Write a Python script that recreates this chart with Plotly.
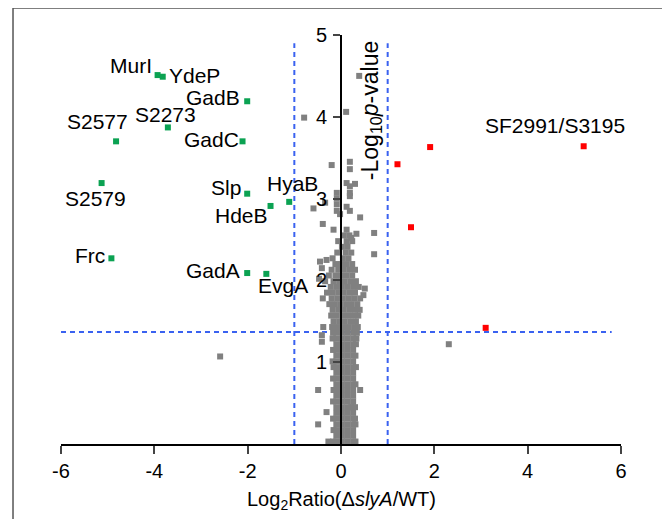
import plotly.graph_objects as go

# ---------------- data ----------------
# non-significant proteins (grey)
gray_rows = [
    (0.03, [-0.17, -0.10, 0.02, 0.14, 0.26, 0.31]),
    (0.10, [-0.10, 0.02, 0.14, 0.26]),
    (0.17, [-0.16, -0.10, 0.02, 0.14, 0.26]),
    (0.24, [-0.10, 0.02, 0.14, 0.26, 0.31]),
    (0.31, [-0.17, -0.10, 0.02, 0.14, 0.26]),
    (0.38, [-0.10, 0.02, 0.14, 0.26]),
    (0.45, [-0.10, 0.02, 0.14, 0.26, 0.30]),
    (0.52, [-0.17, -0.10, 0.02, 0.14, 0.26]),
    (0.59, [-0.10, 0.02, 0.14, 0.26]),
    (0.66, [-0.16, -0.10, 0.02, 0.14, 0.26]),
    (0.73, [-0.10, 0.02, 0.14, 0.26, 0.31]),
    (0.80, [-0.17, -0.10, 0.02, 0.14, 0.26]),
    (0.87, [-0.10, 0.02, 0.14, 0.26]),
    (0.94, [-0.16, -0.10, 0.02, 0.14, 0.26, 0.32]),
    (1.01, [-0.18, -0.10, 0.02, 0.14, 0.26]),
    (1.08, [-0.10, 0.02, 0.14, 0.26, 0.31]),
    (1.15, [-0.17, -0.10, 0.02, 0.14, 0.26]),
    (1.22, [-0.10, 0.02, 0.14, 0.26, 0.32]),
    (1.29, [-0.18, -0.10, 0.02, 0.14, 0.26, 0.33]),
    (1.36, [-0.17, -0.10, 0.02, 0.14, 0.26, 0.34]),
    (1.43, [-0.19, -0.07, 0.05, 0.17, 0.29, 0.36]),
    (1.50, [-0.16, -0.04, 0.08, 0.20, 0.32]),
    (1.57, [-0.21, -0.09, 0.03, 0.15, 0.27, 0.37]),
    (1.64, [-0.18, -0.06, 0.06, 0.18, 0.30, 0.40]),
    (1.71, [-0.25, -0.13, -0.01, 0.11, 0.23, 0.35]),
    (1.78, [-0.20, -0.08, 0.04, 0.16, 0.28, 0.41]),
    (1.85, [-0.30, -0.18, -0.06, 0.06, 0.18, 0.30]),
    (1.92, [-0.22, -0.10, 0.02, 0.14, 0.26, 0.38]),
    (1.99, [-0.34, -0.16, -0.04, 0.08, 0.20, 0.32]),
    (2.06, [-0.26, -0.12, 0.00, 0.12, 0.24]),
    (2.13, [-0.20, -0.06, 0.06, 0.18, 0.30]),
    (2.20, [-0.12, 0.00, 0.12, 0.24]),
    (2.27, [-0.18, 0.04, 0.16]),
    (2.34, [-0.08, 0.10, 0.22]),
    (2.41, [0.02, 0.14]),
    (2.48, [-0.06, 0.12, 0.24]),
    (2.55, [0.06, 0.18]),
    (2.62, [-0.16, 0.12]),
]
gray_extra_x = [0.39, -0.79, 0.11, -0.20, 0.19, 0.19, 0.12, 0.19, 0.30, -0.09,
                0.19, 0.19, -0.09, -0.59, -0.09, -0.09, 0.12, 0.19, -0.02, 0.41,
                -0.39, -0.34, 0.71, 0.71, -0.31, -0.45, 0.51, -0.39, 0.48, -0.38,
                -0.41, -0.41, 0.41, -0.49, -0.49, 0.30, -0.27, 2.31, -2.59, -0.31,
                0.22, 0.33, 0.22, -0.41, -0.47]
gray_extra_y = [4.50, 3.99, 4.06, 3.41, 3.45, 3.36, 3.19, 3.15, 3.18, 3.07,
                3.07, 3.03, 3.00, 2.88, 2.93, 2.85, 2.90, 2.85, 2.81, 2.77,
                2.69, 2.95, 2.58, 2.32, 2.25, 2.23, 1.90, 1.78, 1.82, 1.43,
                1.33, 1.25, 0.66, 0.66, 0.24, 0.31, 0.03, 1.22, 1.07, 0.39,
                0.45, 2.57, 2.52, 2.15, 2.02]

# down-regulated (green)
green_x = [-3.93, -3.82, -2.01, -3.71, -4.82, -2.11, -5.13, -2.01, -1.51, -1.11, -4.92, -2.01, -1.60]
green_y = [4.51, 4.49, 4.19, 3.87, 3.70, 3.70, 3.19, 3.06, 2.91, 2.96, 2.27, 2.09, 2.08]

# up-regulated (red)
red_x = [1.21, 1.91, 5.20, 1.50, 3.10]
red_y = [3.42, 3.63, 3.64, 2.65, 1.42]

# labels
label_text = ["MurI", "YdeP", "GadB", "S2273", "S2577", "GadC", "S2579", "Slp",
              "HyaB", "HdeB", "Frc", "GadA", "EvgA", "SF2991/S3195"]
label_x = [-4.50, -3.13, -2.75, -3.77, -5.21, -2.77, -5.27, -2.46,
           -1.05, -2.13, -5.37, -2.75, -1.24, 4.58]
label_y = [4.63, 4.51, 4.23, 4.03, 3.94, 3.72, 3.00, 3.13,
           3.18, 2.79, 2.30, 2.12, 1.94, 3.89]

x_ticks = [-6, -4, -2, 0, 2, 4, 6]
x_ticktext = ["-6", "-4", "-2", "0", "2", "4", "6"]
y_ticks = [1, 2, 3, 4, 5]
fc_cut = 1.0
p_cut = 1.37

# ---------------- figure ----------------
gray_x = [x for y, xs in gray_rows for x in xs] + gray_extra_x
gray_y = [y for y, xs in gray_rows for x in xs] + gray_extra_y

FONT = "Liberation Sans, Arial, sans-serif"
fig = go.Figure()
fig.add_trace(go.Scatter(x=gray_x, y=gray_y, mode="markers", cliponaxis=False,
                         marker=dict(symbol="square", size=6, color="#808080")))
fig.add_trace(go.Scatter(x=green_x, y=green_y, mode="markers", cliponaxis=False,
                         marker=dict(symbol="square", size=6, color="#0ba252")))
fig.add_trace(go.Scatter(x=red_x, y=red_y, mode="markers", cliponaxis=False,
                         marker=dict(symbol="square", size=6, color="#ff0000")))

for t, x, y in zip(label_text, label_x, label_y):
    fig.add_annotation(x=x, y=y, text=t, showarrow=False,
                       xanchor="center", yanchor="middle",
                       font=dict(family=FONT, size=21, color="black"))

fig.add_annotation(x=0.64, y=4.08, text="-Log<sub>10</sub><i>p</i>-value", textangle=-90,
                   showarrow=False, xanchor="center", yanchor="middle",
                   font=dict(family=FONT, size=23, color="black"))
fig.add_annotation(x=0.5, y=-0.137, xref="paper", yref="paper",
                   text="Log<sub>2</sub>Ratio(Δ<i>slyA</i>/WT)", showarrow=False,
                   xanchor="center", yanchor="middle",
                   font=dict(family=FONT, size=20, color="black"))

dash_col = "#3a62f0"
for xv in (-fc_cut, fc_cut):
    fig.add_shape(type="line", x0=xv, x1=xv, y0=0, y1=4.9, layer="below",
                  line=dict(color=dash_col, width=2, dash="5px,4px"))
fig.add_shape(type="line", x0=-6, x1=5.8, y0=p_cut, y1=p_cut, layer="below",
              line=dict(color=dash_col, width=2, dash="5px,4px"))

# outer frame (left and top edges visible)
fig.add_shape(type="line", xref="paper", yref="paper", x0=-0.0857, x1=-0.0857,
              y0=1.066, y1=-0.25, line=dict(color="#555555", width=1.5))
fig.add_shape(type="line", xref="paper", yref="paper", x0=-0.0857, x1=1.2,
              y0=1.066, y1=1.066, line=dict(color="#555555", width=1.5))

fig.update_layout(
    width=670, height=519,
    margin=dict(l=53, r=57, t=27, b=83),
    plot_bgcolor="white", paper_bgcolor="white",
    showlegend=False,
    font=dict(family=FONT, size=20, color="black"),
    xaxis=dict(range=[-6, 6], tickvals=x_ticks, ticktext=x_ticktext, ticks="outside",
               ticklen=8, tickwidth=2, showline=True, linewidth=2, linecolor="black",
               zeroline=False, showgrid=False, tickfont=dict(size=20)),
    yaxis=dict(range=[0, 5], tickvals=y_ticks, ticks="outside", ticklen=7, tickwidth=2,
               showline=True, linewidth=2, linecolor="black", zeroline=False,
               showgrid=False, anchor="free", position=0.5, tickfont=dict(size=20),
               ticklabelstandoff=2),
)

fig.write_html("out.html")
